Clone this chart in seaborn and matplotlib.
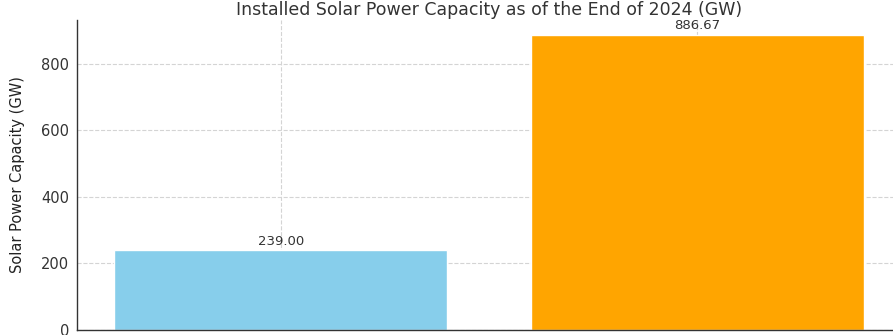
import matplotlib
matplotlib.use("Agg")
import matplotlib.pyplot as plt
import seaborn as sns
import pandas as pd

countries = ["United States", "China"]
capacity_gw = [239.00, 886.67]
bar_colors = ["skyblue", "orange"]

sns.set_style("white")
plt.rcParams["font.family"] = ["DejaVu Sans"]

df = pd.DataFrame({"Country": countries, "Capacity": capacity_gw})

fig = plt.figure(figsize=(8.93, 3.35), dpi=100)
ax = fig.add_axes([77 / 893, 5 / 335, 824 / 893, 310 / 335])

sns.barplot(data=df, x="Country", y="Capacity", hue="Country",
            palette=bar_colors, width=0.8, saturation=1, legend=False, ax=ax)

for patch, val in zip(ax.patches, capacity_gw):
    ax.annotate(f"{val:.2f}", (patch.get_x() + patch.get_width() / 2, val),
                xytext=(0, 2), textcoords="offset points",
                ha="center", va="bottom", fontsize=9.5, color="#333333")

ax.set_xlim(-0.49, 1.49)
ax.set_ylim(0, max(capacity_gw) * 1.05)
ax.set_yticks([0, 200, 400, 600, 800])
ax.grid(True, linestyle="--", color="#d4d4d4", linewidth=0.8)
ax.set_axisbelow(True)

ax.set_title("Installed Solar Power Capacity as of the End of 2024 (GW)",
             fontsize=12.5, color="#333333", pad=3.5)
ax.set_xlabel("")
ax.set_ylabel("Solar Power Capacity (GW)", fontsize=10.5,
              family=["Liberation Sans Narrow", "DejaVu Sans"],
              color="#222222")
ax.yaxis.set_label_coords(-0.063, 0.5)
ax.tick_params(axis="both", labelsize=10.5, colors="#333333",
               length=3, width=0.8, pad=2.5)
for s in ["top", "right"]:
    ax.spines[s].set_visible(False)
for s in ["left", "bottom"]:
    ax.spines[s].set_color("#333333")
    ax.spines[s].set_linewidth(1.0)

fig.savefig("out.png", dpi=100)
